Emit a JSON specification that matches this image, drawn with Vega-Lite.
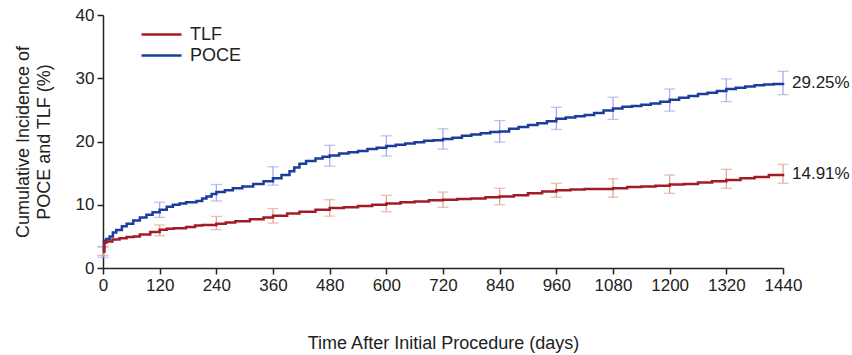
{
  "$schema": "https://vega.github.io/schema/vega-lite/v6.json",
  "autosize": {"type": "none"},
  "padding": {"left": 103, "top": 15, "right": 69, "bottom": 87},
  "width": 680,
  "height": 253,
  "config": {
    "font": "Liberation Sans",
    "view": {"stroke": null},
    "axis": {"domainColor": "#222", "tickColor": "#222", "labelColor": "#222", "titleColor": "#222", "labelFontSize": 17, "titleFontSize": 18, "titleFontWeight": "normal", "grid": false, "tickSize": 6, "domainWidth": 1.5, "tickWidth": 1.5, "labelPadding": 3, "labelOverlap": false, "labelFlush": false}
  },
  "datasets": {
    "curve": [
      {"day":0,"pct":2.6,"series":"POCE"},{"day":2,"pct":4.3,"series":"POCE"},{"day":7,"pct":4.6,"series":"POCE"},{"day":14,"pct":5.0,"series":"POCE"},{"day":21,"pct":5.6,"series":"POCE"},{"day":28,"pct":6.0,"series":"POCE"},{"day":40,"pct":6.6,"series":"POCE"},{"day":50,"pct":7.0,"series":"POCE"},{"day":64,"pct":7.5,"series":"POCE"},{"day":78,"pct":8.0,"series":"POCE"},{"day":92,"pct":8.4,"series":"POCE"},{"day":105,"pct":8.8,"series":"POCE"},{"day":120,"pct":9.2,"series":"POCE"},{"day":135,"pct":9.7,"series":"POCE"},{"day":148,"pct":10.0,"series":"POCE"},{"day":162,"pct":10.2,"series":"POCE"},{"day":176,"pct":10.4,"series":"POCE"},{"day":198,"pct":10.6,"series":"POCE"},{"day":210,"pct":11.0,"series":"POCE"},{"day":219,"pct":11.3,"series":"POCE"},{"day":230,"pct":11.7,"series":"POCE"},{"day":240,"pct":12.0,"series":"POCE"},{"day":258,"pct":12.3,"series":"POCE"},{"day":275,"pct":12.6,"series":"POCE"},{"day":295,"pct":12.9,"series":"POCE"},{"day":318,"pct":13.3,"series":"POCE"},{"day":340,"pct":13.7,"series":"POCE"},{"day":360,"pct":14.2,"series":"POCE"},{"day":378,"pct":14.7,"series":"POCE"},{"day":395,"pct":15.3,"series":"POCE"},{"day":405,"pct":15.9,"series":"POCE"},{"day":416,"pct":16.5,"series":"POCE"},{"day":430,"pct":16.9,"series":"POCE"},{"day":450,"pct":17.3,"series":"POCE"},{"day":465,"pct":17.6,"series":"POCE"},{"day":480,"pct":17.8,"series":"POCE"},{"day":500,"pct":18.1,"series":"POCE"},{"day":520,"pct":18.3,"series":"POCE"},{"day":540,"pct":18.5,"series":"POCE"},{"day":560,"pct":18.8,"series":"POCE"},{"day":580,"pct":19.0,"series":"POCE"},{"day":600,"pct":19.3,"series":"POCE"},{"day":620,"pct":19.5,"series":"POCE"},{"day":640,"pct":19.7,"series":"POCE"},{"day":660,"pct":19.9,"series":"POCE"},{"day":680,"pct":20.1,"series":"POCE"},{"day":700,"pct":20.2,"series":"POCE"},{"day":720,"pct":20.4,"series":"POCE"},{"day":740,"pct":20.6,"series":"POCE"},{"day":760,"pct":20.9,"series":"POCE"},{"day":780,"pct":21.1,"series":"POCE"},{"day":800,"pct":21.3,"series":"POCE"},{"day":820,"pct":21.5,"series":"POCE"},{"day":840,"pct":21.6,"series":"POCE"},{"day":860,"pct":22.0,"series":"POCE"},{"day":880,"pct":22.3,"series":"POCE"},{"day":900,"pct":22.6,"series":"POCE"},{"day":920,"pct":22.9,"series":"POCE"},{"day":940,"pct":23.2,"series":"POCE"},{"day":960,"pct":23.6,"series":"POCE"},{"day":980,"pct":23.8,"series":"POCE"},{"day":1000,"pct":24.0,"series":"POCE"},{"day":1020,"pct":24.2,"series":"POCE"},{"day":1040,"pct":24.5,"series":"POCE"},{"day":1060,"pct":24.9,"series":"POCE"},{"day":1080,"pct":25.2,"series":"POCE"},{"day":1100,"pct":25.5,"series":"POCE"},{"day":1120,"pct":25.6,"series":"POCE"},{"day":1140,"pct":25.8,"series":"POCE"},{"day":1160,"pct":26.0,"series":"POCE"},{"day":1180,"pct":26.3,"series":"POCE"},{"day":1200,"pct":26.6,"series":"POCE"},{"day":1220,"pct":26.9,"series":"POCE"},{"day":1240,"pct":27.2,"series":"POCE"},{"day":1260,"pct":27.5,"series":"POCE"},{"day":1280,"pct":27.7,"series":"POCE"},{"day":1300,"pct":28.0,"series":"POCE"},{"day":1320,"pct":28.3,"series":"POCE"},{"day":1340,"pct":28.5,"series":"POCE"},{"day":1360,"pct":28.7,"series":"POCE"},{"day":1380,"pct":28.9,"series":"POCE"},{"day":1400,"pct":29.0,"series":"POCE"},{"day":1420,"pct":29.1,"series":"POCE"},{"day":1440,"pct":29.25,"series":"POCE"},
      {"day":0,"pct":2.6,"series":"TLF"},{"day":3,"pct":4.0,"series":"TLF"},{"day":7,"pct":4.2,"series":"TLF"},{"day":20,"pct":4.5,"series":"TLF"},{"day":35,"pct":4.7,"series":"TLF"},{"day":50,"pct":4.9,"series":"TLF"},{"day":65,"pct":5.0,"series":"TLF"},{"day":78,"pct":5.3,"series":"TLF"},{"day":100,"pct":5.7,"series":"TLF"},{"day":120,"pct":6.05,"series":"TLF"},{"day":135,"pct":6.2,"series":"TLF"},{"day":150,"pct":6.3,"series":"TLF"},{"day":176,"pct":6.5,"series":"TLF"},{"day":195,"pct":6.7,"series":"TLF"},{"day":210,"pct":6.8,"series":"TLF"},{"day":240,"pct":7.0,"series":"TLF"},{"day":260,"pct":7.2,"series":"TLF"},{"day":280,"pct":7.4,"series":"TLF"},{"day":311,"pct":7.7,"series":"TLF"},{"day":340,"pct":8.0,"series":"TLF"},{"day":360,"pct":8.26,"series":"TLF"},{"day":390,"pct":8.6,"series":"TLF"},{"day":416,"pct":8.9,"series":"TLF"},{"day":450,"pct":9.2,"series":"TLF"},{"day":480,"pct":9.5,"series":"TLF"},{"day":510,"pct":9.6,"series":"TLF"},{"day":540,"pct":9.8,"series":"TLF"},{"day":570,"pct":10.0,"series":"TLF"},{"day":600,"pct":10.2,"series":"TLF"},{"day":630,"pct":10.4,"series":"TLF"},{"day":660,"pct":10.5,"series":"TLF"},{"day":690,"pct":10.7,"series":"TLF"},{"day":720,"pct":10.8,"series":"TLF"},{"day":750,"pct":10.9,"series":"TLF"},{"day":780,"pct":11.0,"series":"TLF"},{"day":810,"pct":11.2,"series":"TLF"},{"day":840,"pct":11.3,"series":"TLF"},{"day":870,"pct":11.5,"series":"TLF"},{"day":900,"pct":11.8,"series":"TLF"},{"day":930,"pct":12.1,"series":"TLF"},{"day":960,"pct":12.3,"series":"TLF"},{"day":990,"pct":12.4,"series":"TLF"},{"day":1020,"pct":12.5,"series":"TLF"},{"day":1080,"pct":12.6,"series":"TLF"},{"day":1110,"pct":12.8,"series":"TLF"},{"day":1140,"pct":12.9,"series":"TLF"},{"day":1170,"pct":13.0,"series":"TLF"},{"day":1200,"pct":13.2,"series":"TLF"},{"day":1230,"pct":13.3,"series":"TLF"},{"day":1260,"pct":13.5,"series":"TLF"},{"day":1290,"pct":13.7,"series":"TLF"},{"day":1320,"pct":13.9,"series":"TLF"},{"day":1350,"pct":14.2,"series":"TLF"},{"day":1380,"pct":14.4,"series":"TLF"},{"day":1410,"pct":14.7,"series":"TLF"},{"day":1440,"pct":14.91,"series":"TLF"}
    ],
    "bars": [
      {"day":0,"lo":1.7,"hi":3.4,"series":"POCE"},{"day":120,"lo":8.0,"hi":10.4,"series":"POCE"},{"day":240,"lo":10.6,"hi":13.2,"series":"POCE"},{"day":360,"lo":13.1,"hi":16.0,"series":"POCE"},{"day":480,"lo":16.1,"hi":19.4,"series":"POCE"},{"day":600,"lo":17.7,"hi":20.9,"series":"POCE"},{"day":720,"lo":18.8,"hi":22.0,"series":"POCE"},{"day":840,"lo":19.9,"hi":23.3,"series":"POCE"},{"day":960,"lo":21.9,"hi":25.4,"series":"POCE"},{"day":1080,"lo":23.5,"hi":27.0,"series":"POCE"},{"day":1200,"lo":24.8,"hi":28.3,"series":"POCE"},{"day":1320,"lo":26.3,"hi":29.9,"series":"POCE"},{"day":1440,"lo":27.4,"hi":31.1,"series":"POCE"},
      {"day":0,"lo":2.0,"hi":3.3,"series":"TLF"},{"day":120,"lo":5.1,"hi":6.8,"series":"TLF"},{"day":240,"lo":6.05,"hi":8.15,"series":"TLF"},{"day":360,"lo":7.1,"hi":9.4,"series":"TLF"},{"day":480,"lo":8.2,"hi":10.8,"series":"TLF"},{"day":600,"lo":8.9,"hi":11.5,"series":"TLF"},{"day":720,"lo":9.6,"hi":12.0,"series":"TLF"},{"day":840,"lo":10.0,"hi":12.6,"series":"TLF"},{"day":960,"lo":11.2,"hi":13.4,"series":"TLF"},{"day":1080,"lo":11.2,"hi":14.1,"series":"TLF"},{"day":1200,"lo":11.8,"hi":14.7,"series":"TLF"},{"day":1320,"lo":12.6,"hi":15.6,"series":"TLF"},{"day":1440,"lo":13.4,"hi":16.4,"series":"TLF"}
    ],
    "ends": [
      {"day":1440,"pct":29.25,"label":"29.25%"},
      {"day":1440,"pct":14.91,"label":"14.91%"}
    ]
  },
  "layer": [
    {
      "data": {"name": "bars"},
      "mark": {"type": "errorbar", "ticks": {"size": 11, "thickness": 1.3}, "thickness": 1.3},
      "encoding": {
        "x": {"field": "day", "type": "quantitative", "scale": {"domain": [0, 1440], "nice": false}, "axis": {"values": [0,120,240,360,480,600,720,840,960,1080,1200,1320,1440], "format": "d", "title": "Time After Initial Procedure (days)", "titlePadding": 41}},
        "y": {"field": "lo", "type": "quantitative", "scale": {"domain": [0, 40], "nice": false}, "axis": {"values": [0,10,20,30,40], "format": "d", "title": ["Cumulative Incidence of", "POCE and TLF (%)"], "titlePadding": 22, "titleLineHeight": 21}},
        "y2": {"field": "hi"},
        "color": {"field": "series", "type": "nominal", "scale": {"domain": ["TLF", "POCE"], "range": ["#e3a592", "#a3adea"]}, "legend": null}
      }
    },
    {
      "data": {"name": "curve"},
      "mark": {"type": "line", "interpolate": "step-after", "strokeWidth": 2.5},
      "encoding": {
        "x": {"field": "day", "type": "quantitative"},
        "y": {"field": "pct", "type": "quantitative"},
        "color": {"field": "series", "type": "nominal", "scale": {"domain": ["TLF", "POCE"], "range": ["#a31b25", "#1c3d9c"]}, "legend": {"title": null, "orient": "none", "legendX": 47, "legendY": 8, "symbolType": "M-2,0H2", "symbolSize": 400, "symbolStrokeWidth": 2.5, "labelFontSize": 18, "labelColor": "#222", "rowPadding": -3, "labelOffset": 17}}
      }
    },
    {
      "data": {"name": "ends"},
      "mark": {"type": "text", "align": "left", "dx": 9, "fontSize": 17, "color": "#222"},
      "encoding": {
        "x": {"field": "day", "type": "quantitative"},
        "y": {"field": "pct", "type": "quantitative"},
        "text": {"field": "label"}
      }
    }
  ],
  "resolve": {"scale": {"color": "independent"}}
}
